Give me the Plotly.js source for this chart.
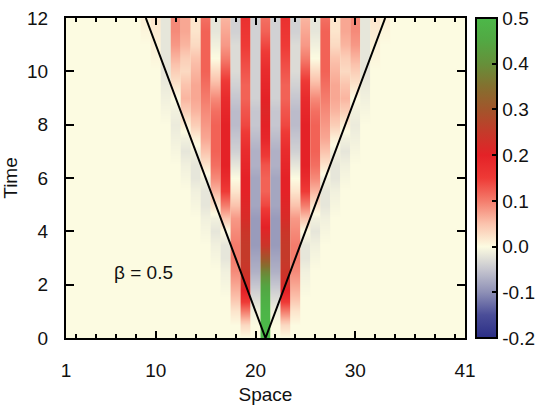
<!DOCTYPE html>
<html>
<head>
<meta charset="utf-8">
<script src="https://cdn.plot.ly/plotly-3.0.1.min.js"></script>
<style>html,body{margin:0;padding:0;background:#fff;}#chart{width:554px;height:409px;}</style>
</head>
<body>
<div id="chart"></div>
<script>
// Axis ticks
const spaceTicks = [1, 10, 20, 30, 41];
const timeTicks = [0, 2, 4, 6, 8, 10, 12];
const cbTicks = [-0.2, -0.1, 0, 0.1, 0.2, 0.3, 0.4, 0.5];
const cbTickText = ['-0.2', '-0.1', '0.0', '0.1', '0.2', '0.3', '0.4', '0.5'];

// Grid
const space = [1,2,3,4,5,6,7,8,9,10,11,12,13,14,15,16,17,18,19,20,21,22,23,24,25,26,27,28,29,30,31,32,33,34,35,36,37,38,39,40,41];
const times = [0,0.5,1,1.5,2,2.5,3,3.5,4,4.5,5,5.5,6,6.5,7,7.5,8,8.5,9,9.5,10,10.5,11,11.5,12];

// Column values (site n), one value per time in `times`
const c09 = [0,0,0,0,0,0,0,0,0,0,0,0,0,0,0,0,0,0,0,0,0,0,0,0.005,0.01];
const c10 = [0,0,0,0,0,0,0,0,0,0,0,0,0,0,0,0,0,0,0,0,0,0.005,0.01,0.015,0.02];
const c11 = [0,0,0,0,0,0,0,0,0,0,0,0,0,0,0,0,0,-0.005,-0.01,-0.015,-0.02,-0.02,-0.02,-0.02,-0.02];
const c12 = [0,0,0,0,0,0,0,0,0,0,0,0,0,0,-0.005,-0.01,-0.015,-0.01,0,0.02,0.04,0.06,0.08,0.09,0.09];
const c13 = [0,0,0,0,0,0,0,0,0,0,0,0,-0.005,-0.01,-0.02,-0.01,0.01,0.04,0.06,0.05,0.03,0.04,0.06,0.07,0.07];
const c14 = [0,0,0,0,0,0,0,0,0,0,-0.005,-0.01,-0.02,-0.02,-0.01,0.01,0.04,0.06,0.07,0.07,0.06,0.05,0.03,0.02,0.02];
const c15 = [0,0,0,0,0,0,0,0,-0.005,-0.01,-0.02,-0.02,-0.01,0.02,0.05,0.07,0.08,0.09,0.1,0.11,0.12,0.12,0.12,0.12,0.11];
const c16 = [0,0,0,0,0,0,-0.005,-0.01,-0.02,-0.01,0.02,0.06,0.09,0.11,0.12,0.12,0.12,0.11,0.09,0.06,0.03,0,-0.01,-0.02,-0.02];
const c17 = [0,0,0,0,-0.005,-0.01,-0.02,-0.02,0,0.05,0.1,0.15,0.18,0.2,0.2,0.2,0.2,0.19,0.18,0.16,0.13,0.1,0.08,0.07,0.06];
const c18 = [0,0,0.02,0.05,0.07,0.09,0.1,0.1,0.09,0.08,0.05,0.02,0,-0.02,-0.04,-0.05,-0.06,-0.06,-0.05,-0.04,-0.03,-0.03,-0.03,-0.04,-0.04];
const c19 = [0,0.03,0.1,0.17,0.22,0.24,0.25,0.25,0.24,0.22,0.21,0.2,0.2,0.19,0.18,0.16,0.14,0.13,0.12,0.12,0.13,0.14,0.15,0.16,0.17];
const c20 = [0,0,-0.01,-0.03,-0.05,-0.07,-0.08,-0.09,-0.09,-0.09,-0.08,-0.08,-0.08,-0.07,-0.07,-0.06,-0.05,-0.05,-0.04,-0.04,-0.04,-0.04,-0.04,-0.04,-0.04];
const c21 = [0.5,0.5,0.49,0.47,0.44,0.38,0.3,0.24,0.21,0.18,0.14,0.12,0.12,0.13,0.16,0.19,0.2,0.21,0.2,0.19,0.18,0.16,0.14,0.12,0.11];
const c22 = [0,0,-0.01,-0.03,-0.05,-0.07,-0.08,-0.09,-0.09,-0.09,-0.08,-0.08,-0.08,-0.07,-0.07,-0.06,-0.05,-0.05,-0.04,-0.04,-0.04,-0.04,-0.04,-0.04,-0.04];
const c23 = [0,0.03,0.1,0.17,0.22,0.24,0.25,0.25,0.24,0.22,0.21,0.2,0.2,0.19,0.18,0.16,0.14,0.13,0.12,0.12,0.13,0.14,0.15,0.16,0.17];
const c24 = [0,0,0.02,0.05,0.07,0.09,0.1,0.1,0.09,0.08,0.05,0.02,0,-0.02,-0.04,-0.05,-0.06,-0.06,-0.05,-0.04,-0.03,-0.03,-0.03,-0.04,-0.04];
const c25 = [0,0,0,0,-0.005,-0.01,-0.02,-0.02,0,0.05,0.1,0.15,0.18,0.2,0.2,0.2,0.2,0.19,0.18,0.16,0.13,0.1,0.08,0.07,0.06];
const c26 = [0,0,0,0,0,0,-0.005,-0.01,-0.02,-0.01,0.02,0.06,0.09,0.11,0.12,0.12,0.12,0.11,0.09,0.06,0.03,0,-0.01,-0.02,-0.02];
const c27 = [0,0,0,0,0,0,0,0,-0.005,-0.01,-0.02,-0.02,-0.01,0.02,0.05,0.07,0.08,0.09,0.1,0.11,0.12,0.12,0.12,0.12,0.11];
const c28 = [0,0,0,0,0,0,0,0,0,0,-0.005,-0.01,-0.02,-0.02,-0.01,0.01,0.04,0.06,0.07,0.07,0.06,0.05,0.03,0.02,0.02];
const c29 = [0,0,0,0,0,0,0,0,0,0,0,0,-0.005,-0.01,-0.02,-0.01,0.01,0.04,0.06,0.05,0.03,0.04,0.06,0.07,0.07];
const c30 = [0,0,0,0,0,0,0,0,0,0,0,0,0,0,-0.005,-0.01,-0.015,-0.01,0,0.02,0.04,0.06,0.08,0.09,0.09];
const c31 = [0,0,0,0,0,0,0,0,0,0,0,0,0,0,0,0,0,-0.005,-0.01,-0.015,-0.02,-0.02,-0.02,-0.02,-0.02];
const c32 = [0,0,0,0,0,0,0,0,0,0,0,0,0,0,0,0,0,0,0,0,0,0.005,0.01,0.015,0.02];
const c33 = [0,0,0,0,0,0,0,0,0,0,0,0,0,0,0,0,0,0,0,0,0,0,0,0.005,0.01];

// Light-cone guide
const coneX = [9, 21, 33];
const coneY = [12, 0, 12];

const columns = {9:c09,10:c10,11:c11,12:c12,13:c13,14:c14,15:c15,16:c16,17:c17,18:c18,19:c19,20:c20,
  21:c21,22:c22,23:c23,24:c24,25:c25,26:c26,27:c27,28:c28,29:c29,30:c30,31:c31,32:c32,33:c33};
const zero = times.map(() => 0);

const zmin = -0.2, zmax = 0.5;
const colorscale = [
  [0.0, '#2b2e86'],
  [0.0714, '#4a4d98'],
  [0.1429, '#8e90b6'],
  [0.2143, '#c6c6cf'],
  [0.2857, '#fcfbe1'],
  [0.357, '#fbc3ad'],
  [0.4286, '#f47c6c'],
  [0.5, '#ee3a36'],
  [0.5714, '#e42227'],
  [0.643, '#c43a2a'],
  [0.714, '#a2552b'],
  [0.786, '#84702f'],
  [0.857, '#66903a'],
  [0.929, '#52a843'],
  [1.0, '#4cb849']
];

const FONT = 'Liberation Sans, Arial, Helvetica, sans-serif';
const plotW = 554 - 66 - 82;
const cbX = 1 + 11 / plotW;
const cbThick = 21;

const colorbar = {
  x: cbX, xanchor: 'left', y: 0.5, yanchor: 'middle', len: 1, lenmode: 'fraction',
  thickness: cbThick, thicknessmode: 'pixels', xpad: 0, ypad: 0,
  outlinewidth: 2, outlinecolor: '#000',
  tickmode: 'array', tickvals: cbTicks, ticktext: cbTickText,
  ticks: 'inside', ticklen: 6, tickwidth: 2, tickcolor: '#000',
  ticklabelstandoff: 8,
  tickfont: {family: FONT, size: 19, color: '#111'}
};

// One heatmap strip per site: crisp in space, smoothly shaded in time
const traces = space.map((n, k) => {
  const col = columns[n] || zero;
  return {
    type: 'heatmap', x: [n - 0.25, n + 0.25], y: times,
    z: col.map(v => [v, v]),
    zmin: zmin, zmax: zmax, colorscale: colorscale, zsmooth: 'best',
    hoverinfo: 'skip', showscale: k === 0, colorbar: colorbar
  };
});
traces.push({
  type: 'scatter', mode: 'lines', x: coneX, y: coneY,
  line: {color: '#000', width: 2}, hoverinfo: 'skip', showlegend: false
});

// Left-side dashes on colour bar (mirror the inside ticks)
const shapes = cbTicks.slice(1, -1).map(v => {
  const yp = (v - zmin) / (zmax - zmin);
  return {type: 'line', xref: 'paper', yref: 'paper', x0: cbX, x1: cbX + 6 / plotW, y0: yp, y1: yp,
          line: {color: '#000', width: 2}};
});

const layout = {
  width: 554, height: 409,
  margin: {l: 66, r: 82, t: 18, b: 71, pad: 0},
  paper_bgcolor: '#ffffff', plot_bgcolor: '#fcfbe1',
  showlegend: false,
  font: {family: FONT, size: 19, color: '#111'},
  xaxis: {
    range: [1, 41], tickmode: 'array', tickvals: spaceTicks,
    ticks: 'inside', ticklen: 7, tickwidth: 2, tickcolor: '#000',
    minor: {tickmode: 'linear', tick0: 0, dtick: 2, ticks: 'inside', ticklen: 4, tickwidth: 2, tickcolor: '#000'},
    showline: true, linewidth: 2, linecolor: '#000', mirror: 'ticks',
    showgrid: false, zeroline: false, ticklabelstandoff: 14,
    tickfont: {family: FONT, size: 19, color: '#111'},
    title: {text: 'Space', font: {family: FONT, size: 19, color: '#111'}, standoff: 8}
  },
  yaxis: {
    range: [0, 12], tickmode: 'array', tickvals: timeTicks,
    ticks: 'inside', ticklen: 8, tickwidth: 2, tickcolor: '#000',
    showline: true, linewidth: 2, linecolor: '#000', mirror: 'ticks',
    showgrid: false, zeroline: false, ticklabelstandoff: 12,
    tickfont: {family: FONT, size: 19, color: '#111'},
    title: {text: 'Time', font: {family: FONT, size: 19, color: '#111'}, standoff: 4}
  },
  annotations: [
    {x: 8.8, y: 2.47, xref: 'x', yref: 'y', text: 'β = 0.5', showarrow: false,
     font: {family: FONT, size: 19, color: '#111'}}
  ],
  shapes: shapes
};

Plotly.newPlot('chart', traces, layout, {displayModeBar: false, staticPlot: true});
</script>
</body>
</html>
